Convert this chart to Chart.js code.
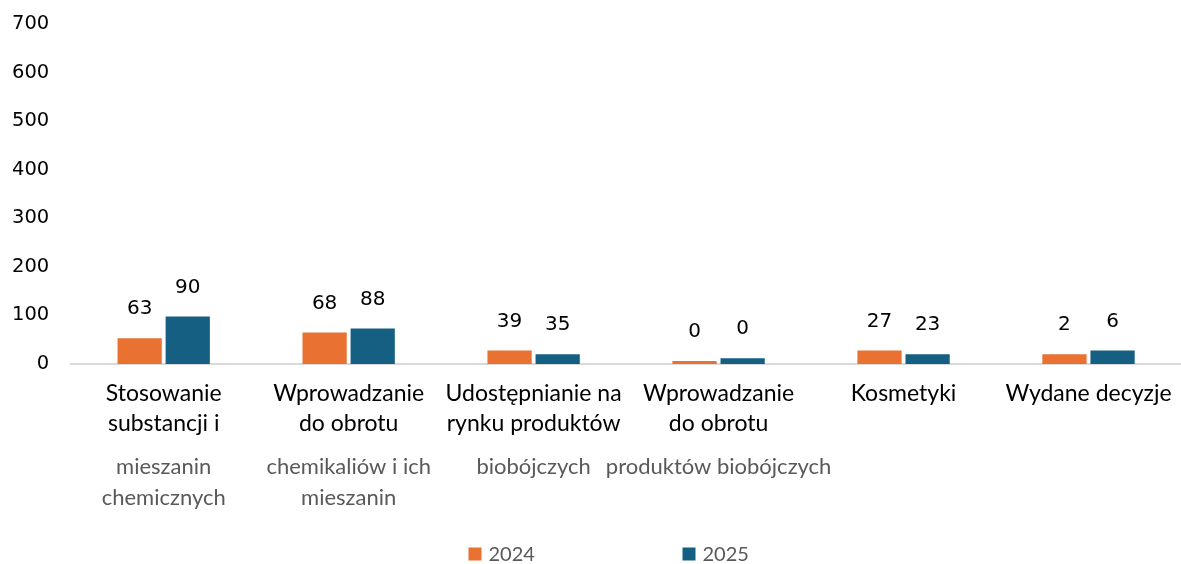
<!DOCTYPE html>
<html>
<head>
<meta charset="utf-8">
<script src="https://cdn.jsdelivr.net/npm/chart.js@4/dist/chart.umd.min.js"></script>
<style>
  html, body { margin: 0; padding: 0; background: #fff; }
  #wrap { width: 1181px; height: 564px; }
</style>
</head>
<body>
<div id="wrap"><canvas id="chart" width="1181" height="564"></canvas></div>
<script>
// ---- data ----
const categoryLines = [
  ['Stosowanie', 'substancji i'],
  ['Wprowadzanie', 'do obrotu'],
  ['Udostępnianie na', 'rynku produktów'],
  ['Wprowadzanie', 'do obrotu'],
  ['Kosmetyki'],
  ['Wydane decyzje'],
];
const categorySubLines = [
  ['mieszanin', 'chemicznych'],
  ['chemikaliów i ich', 'mieszanin'],
  ['biobójczych'],
  ['produktów biobójczych'],
  [],
  [],
];
const seriesNames = ['2024', '2025'];
// bar heights as drawn in the picture
const bars2024 = [53, 65, 28, 6, 28, 20];
const bars2025 = [98, 73, 20, 12, 20, 28];
// value labels as printed above the bars
const labels2024 = ['63', '68', '39', '0', '27', '2'];
const labels2025 = ['90', '88', '35', '0', '23', '6'];
const yTicks = [0, 100, 200, 300, 400, 500, 600, 700];

const COLORS = ['#E97132', '#156082'];
const valueLabels = [labels2024, labels2025];

// ---- plugins ----
const valueLabelPlugin = {
  id: 'valueLabels',
  afterDatasetsDraw(chart) {
    const ctx = chart.ctx;
    ctx.save();
    ctx.font = '20px "DejaVu Sans"';
    ctx.fillStyle = '#000';
    ctx.textAlign = 'center';
    ctx.textBaseline = 'middle';
    chart.data.datasets.forEach((ds, di) => {
      chart.getDatasetMeta(di).data.forEach((bar, i) => {
        ctx.fillText(valueLabels[di][i], bar.x, bar.y - 29);
      });
    });
    ctx.restore();
  }
};

const categoryLabelPlugin = {
  id: 'categoryLabels',
  afterDraw(chart) {
    const ctx = chart.ctx;
    const x = chart.scales.x;
    const base = chart.chartArea.bottom;
    ctx.save();
    ctx.textAlign = 'center';
    ctx.textBaseline = 'middle';
    categoryLines.forEach((lines, i) => {
      const cx = x.getPixelForValue(i);
      ctx.font = '23px Lato';
      ctx.fillStyle = '#000';
      lines.forEach((s, k) => ctx.fillText(s, cx, base + 30 + k * 30));
      ctx.font = '22px Lato';
      ctx.fillStyle = '#595959';
      categorySubLines[i].forEach((s, k) => ctx.fillText(s, cx, base + 103 + k * 31));
    });
    ctx.restore();
  }
};

const legendPlugin = {
  id: 'customLegend',
  afterDraw(chart) {
    const ctx = chart.ctx;
    const y = 554;
    const startX = chart.width / 2 - 122;
    ctx.save();
    ctx.font = '20px Lato';
    ctx.textBaseline = 'middle';
    chart.data.datasets.forEach((ds, di) => {
      const lx = startX + di * 214;
      ctx.fillStyle = ds.backgroundColor;
      ctx.fillRect(lx, y - 6.5, 13, 13);
      ctx.fillStyle = '#595959';
      ctx.fillText(ds.label, lx + 20, y + 1);
    });
    ctx.restore();
  }
};

// ---- chart ----
new Chart(document.getElementById('chart'), {
  type: 'bar',
  data: {
    labels: categoryLines.map(l => l.join(' ')),
    datasets: [
      { label: seriesNames[0], data: bars2024, backgroundColor: COLORS[0] },
      { label: seriesNames[1], data: bars2025, backgroundColor: COLORS[1] },
    ]
  },
  options: {
    responsive: false,
    animation: false,
    datasets: { bar: { categoryPercentage: 0.52, barPercentage: 0.92 } },
    layout: { padding: { left: -10, right: 0, top: 0, bottom: 200 } },
    plugins: {
      legend: { display: false },
      tooltip: { enabled: false }
    },
    scales: {
      x: {
        grid: { display: false, drawTicks: false },
        border: { display: true, color: '#d9d9d9', width: 2 },
        ticks: { display: false }
      },
      y: {
        min: 0,
        max: 700,
        afterBuildTicks: axis => { axis.ticks = yTicks.map(v => ({ value: v })); },
        afterFit: axis => { axis.paddingTop = 24; },
        grid: { display: false, drawTicks: false },
        border: { display: false },
        ticks: {
          padding: 22,
          color: '#000',
          font: { family: 'DejaVu Sans', size: 19.5 }
        }
      }
    }
  },
  plugins: [valueLabelPlugin, categoryLabelPlugin, legendPlugin]
});
</script>
</body>
</html>
